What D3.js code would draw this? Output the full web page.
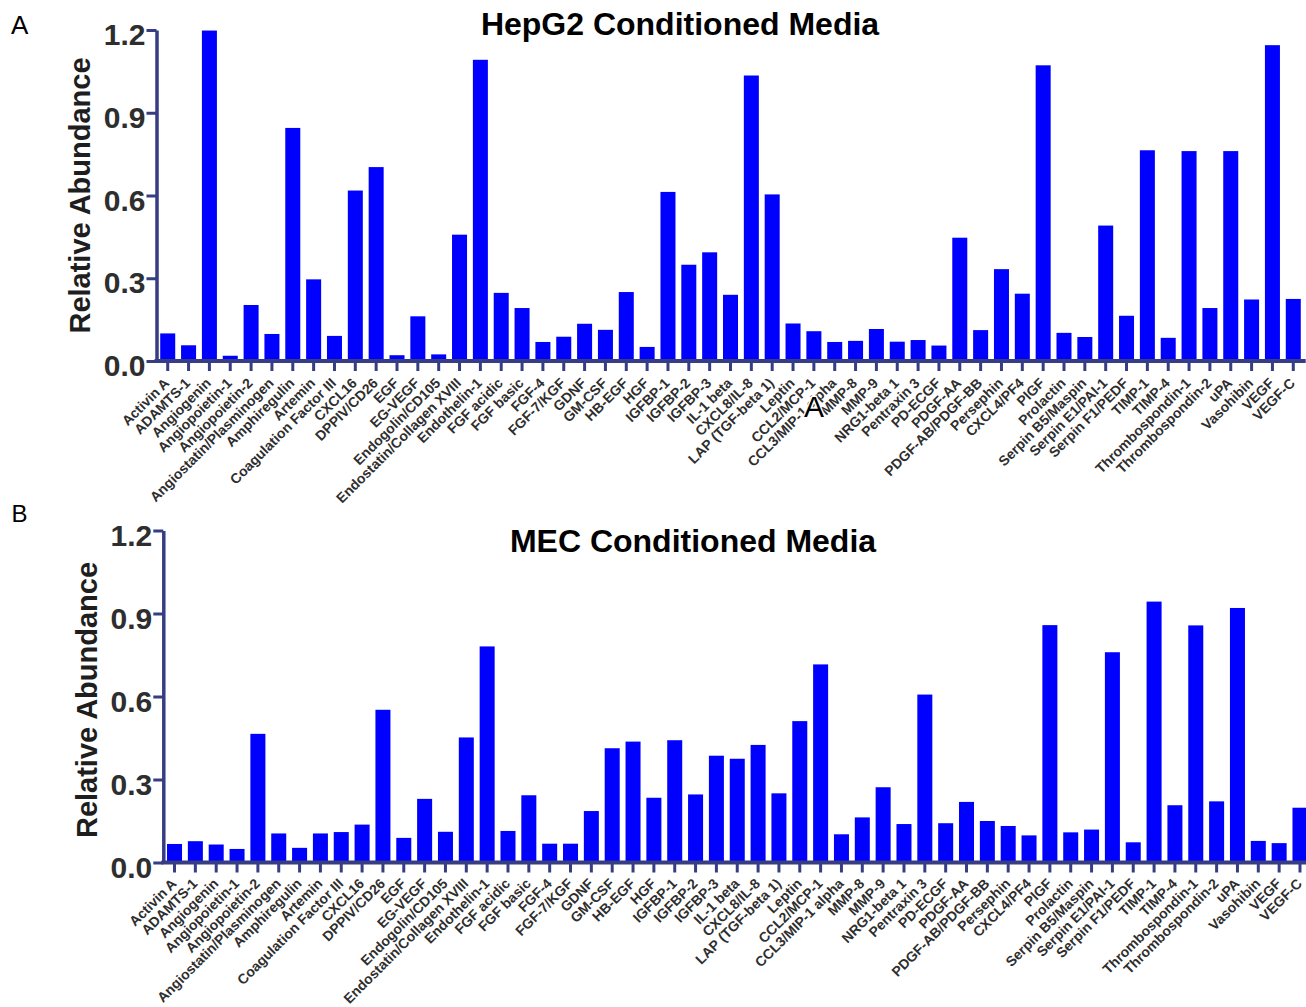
<!DOCTYPE html>
<html>
<head>
<meta charset="utf-8">
<script src="https://cdn.jsdelivr.net/npm/d3@7/dist/d3.min.js"></script>
<style>
  html, body { margin: 0; padding: 0; background: #fff; }
  svg { display: block; }
  text { font-family: "Liberation Sans", Arial, Helvetica, sans-serif; }
</style>
</head>
<body>
<svg id="chart" width="1306" height="1007"></svg>
<script>
// Angiogenesis array analytes (shared by both panels)
const analytes = [
  "Activin A", "ADAMTS-1", "Angiogenin", "Angiopoietin-1", "Angiopoietin-2",
  "Angiostatin/Plasminogen", "Amphiregulin", "Artemin", "Coagulation Factor III", "CXCL16",
  "DPPIV/CD26", "EGF", "EG-VEGF", "Endogolin/CD105", "Endostatin/Collagen XVIII",
  "Endothelin-1", "FGF acidic", "FGF basic", "FGF-4", "FGF-7/KGF",
  "GDNF", "GM-CSF", "HB-EGF", "HGF", "IGFBP-1",
  "IGFBP-2", "IGFBP-3", "IL-1 beta", "CXCL8/IL-8", "LAP (TGF-beta 1)",
  "Leptin", "CCL2/MCP-1", "CCL3/MIP-1 alpha", "MMP-8", "MMP-9",
  "NRG1-beta 1", "Pentraxin 3", "PD-ECGF", "PDGF-AA", "PDGF-AB/PDGF-BB",
  "Persephin", "CXCL4/PF4", "PlGF", "Prolactin", "Serpin B5/Maspin",
  "Serpin E1/PAI-1", "Serpin F1/PEDF", "TIMP-1", "TIMP-4", "Thrombospondin-1",
  "Thrombospondin-2", "uPA", "Vasohibin", "VEGF", "VEGF-C"
];

// Relative abundance, HepG2 conditioned media
const hepg2Values = [
  0.100, 0.057, 1.198, 0.019, 0.203, 0.098, 0.845, 0.296, 0.091, 0.618,
  0.703, 0.021, 0.162, 0.024, 0.458, 1.092, 0.247, 0.192, 0.069, 0.088,
  0.135, 0.113, 0.250, 0.051, 0.613, 0.349, 0.394, 0.240, 1.035, 0.604,
  0.136, 0.108, 0.069, 0.073, 0.116, 0.070, 0.076, 0.056, 0.447, 0.112,
  0.333, 0.244, 1.072, 0.102, 0.087, 0.491, 0.164, 0.764, 0.084, 0.761,
  0.192, 0.761, 0.223, 1.145, 0.225
];

// Relative abundance, MEC conditioned media
const mecValues = [
  0.067, 0.077, 0.065, 0.049, 0.465, 0.105, 0.053, 0.105, 0.110, 0.137,
  0.552, 0.089, 0.230, 0.111, 0.452, 0.781, 0.114, 0.243, 0.068, 0.068,
  0.186, 0.413, 0.437, 0.234, 0.442, 0.246, 0.386, 0.375, 0.425, 0.250,
  0.511, 0.716, 0.102, 0.163, 0.272, 0.139, 0.607, 0.142, 0.219, 0.150,
  0.132, 0.098, 0.858, 0.109, 0.119, 0.760, 0.073, 0.943, 0.207, 0.857,
  0.221, 0.920, 0.078, 0.070, 0.198
];

const yTicks = [0, 0.3, 0.6, 0.9, 1.2];
const yMax = 1.2;

const AXIS_COLOR = "#363d82";
const BAR_COLOR = "#0000ff";
const LABEL_COLOR = "#2e2e2e";

const svg = d3.select("#chart");
svg.append("rect").attr("width", 1306).attr("height", 1007).attr("fill", "#fff");

function panel(cfg) {
  const g = svg.append("g");

  const x = d3.scaleBand()
    .domain(analytes)
    .range([cfg.left + 0.8, cfg.right])
    .paddingInner(0.28)
    .paddingOuter(0.14);

  const y = d3.scaleLinear()
    .domain([0, yMax])
    .range([cfg.bottom, cfg.top]);

  // bars
  g.append("g")
    .selectAll("rect")
    .data(cfg.values)
    .join("rect")
    .attr("x", (d, i) => x(analytes[i]))
    .attr("y", d => y(d))
    .attr("width", x.bandwidth())
    .attr("height", d => y(0) - y(d))
    .attr("fill", BAR_COLOR);

  // x axis
  const xAxis = g.append("g")
    .attr("transform", `translate(0,${cfg.bottom})`)
    .call(d3.axisBottom(x).tickSize(10).tickSizeOuter(0));
  xAxis.select(".domain")
    .attr("stroke", AXIS_COLOR)
    .attr("stroke-width", 4)
    .attr("d", `M${cfg.left - 2},0H${cfg.right + 2}`);
  xAxis.selectAll(".tick line")
    .attr("stroke", AXIS_COLOR)
    .attr("stroke-width", 3);
  xAxis.selectAll(".tick text")
    .attr("x", 0).attr("y", 0).attr("dy", 0)
    .attr("transform", `translate(${cfg.labelDx},${cfg.labelDy}) rotate(-45)`)
    .attr("text-anchor", "end")
    .attr("fill", LABEL_COLOR)
    .style("font-size", "14px")
    .style("font-weight", "bold");

  // y axis
  const yAxis = g.append("g")
    .attr("transform", `translate(${cfg.left},0)`)
    .call(d3.axisLeft(y).tickValues(yTicks).tickFormat(d3.format(".1f"))
      .tickSize(10).tickSizeOuter(0).tickPadding(1));
  yAxis.select(".domain")
    .attr("stroke", AXIS_COLOR)
    .attr("stroke-width", 3.5);
  yAxis.selectAll(".tick line")
    .attr("stroke", AXIS_COLOR)
    .attr("stroke-width", 3);
  yAxis.selectAll(".tick text")
    .attr("dy", 0)
    .attr("y", 14.5)
    .attr("fill", LABEL_COLOR)
    .style("font-size", "30px")
    .style("font-weight", "bold");

  // y axis title
  g.append("text")
    .attr("transform", `translate(${cfg.yTitleX},${cfg.yTitleY}) rotate(-90)`)
    .attr("text-anchor", "middle")
    .attr("fill", "#1e1e1e")
    .style("font-size", "29px")
    .style("font-weight", "bold")
    .text("Relative Abundance");

  // chart title
  g.append("text")
    .attr("x", cfg.titleX)
    .attr("y", cfg.titleY)
    .attr("text-anchor", "middle")
    .attr("fill", "#000")
    .style("font-size", "32px")
    .style("font-weight", "bold")
    .text(cfg.title);

  // panel letter
  g.append("text")
    .attr("x", cfg.letterX)
    .attr("y", cfg.letterY)
    .attr("fill", "#000")
    .style("font-size", cfg.letterSize)
    .text(cfg.letter);
}

panel({
  values: hepg2Values, title: "HepG2 Conditioned Media", letter: "A",
  left: 156.5, right: 1303.7, top: 30, bottom: 361,
  labelDx: 2.5, labelDy: 23,
  yTitleX: 90, yTitleY: 195.5,
  titleX: 680, titleY: 35,
  letterX: 11, letterY: 34, letterSize: "26px"
});

panel({
  values: mecValues, title: "MEC Conditioned Media", letter: "B",
  left: 163.3, right: 1310.4, top: 530.5, bottom: 862.5,
  labelDx: 3, labelDy: 22,
  yTitleX: 96.7, yTitleY: 700,
  titleX: 693, titleY: 552,
  letterX: 11.5, letterY: 522, letterSize: "24px"
});

// stray letter over the upper panel's category labels
svg.append("text")
  .attr("x", 804)
  .attr("y", 417)
  .attr("fill", "#000")
  .attr("stroke", "#fff")
  .attr("stroke-width", 3)
  .attr("paint-order", "stroke")
  .style("font-size", "30px")
  .text("A");
</script>
</body>
</html>
